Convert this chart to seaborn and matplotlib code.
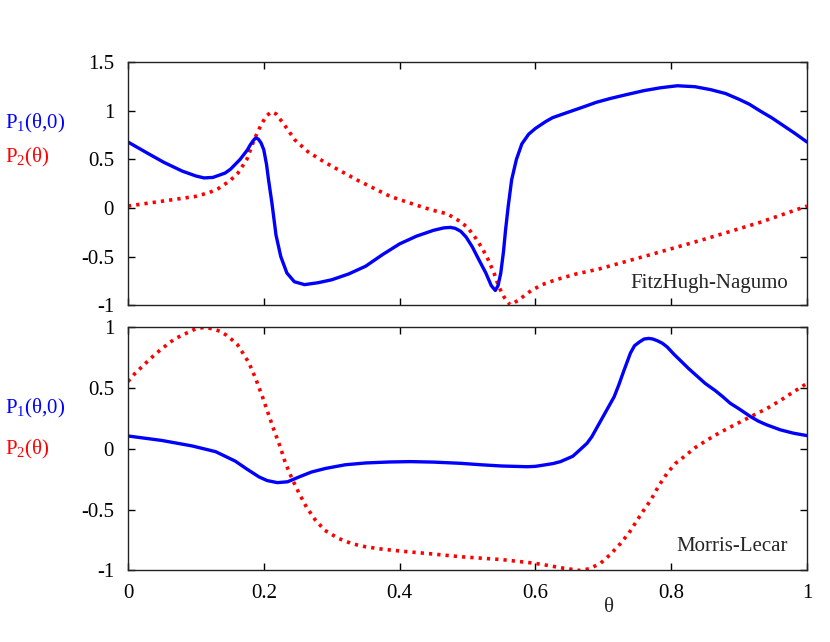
import numpy as np
import pandas as pd
import matplotlib
matplotlib.use("Agg")
import matplotlib.pyplot as plt
import seaborn as sns

# values
# FitzHugh-Nagumo, P1(theta,0)
fhn_p1_theta = [0.0, 0.03, 0.053, 0.08, 0.1, 0.112, 0.125, 0.135, 0.143, 0.151, 0.165, 0.176,
                0.18, 0.184, 0.187, 0.189, 0.192, 0.196, 0.2, 0.204, 0.207, 0.212, 0.218, 0.225,
                0.234, 0.245, 0.26, 0.28, 0.3, 0.325, 0.35, 0.375, 0.4, 0.425, 0.45, 0.465,
                0.475, 0.482, 0.49, 0.498, 0.507, 0.518, 0.527, 0.535, 0.541, 0.545, 0.549, 0.553,
                0.556, 0.56, 0.565, 0.572, 0.58, 0.59, 0.6, 0.615, 0.625, 0.637, 0.67, 0.69,
                0.711, 0.735, 0.76, 0.785, 0.809, 0.835, 0.858, 0.88, 0.9, 0.915, 0.931, 0.948,
                0.965, 0.982, 1.0]
fhn_p1_value = [0.68, 0.56, 0.47, 0.38, 0.33, 0.31, 0.315, 0.34, 0.36, 0.40, 0.50, 0.60,
                0.65, 0.69, 0.715, 0.72, 0.71, 0.67, 0.60, 0.45, 0.29, 0.05, -0.28, -0.50,
                -0.67, -0.76, -0.79, -0.77, -0.74, -0.68, -0.60, -0.48, -0.37, -0.29, -0.23, -0.205,
                -0.20, -0.21, -0.24, -0.30, -0.40, -0.55, -0.67, -0.80, -0.85, -0.80, -0.67, -0.45,
                -0.23, 0.02, 0.29, 0.50, 0.66, 0.76, 0.82, 0.89, 0.93, 0.96, 1.04, 1.09,
                1.13, 1.17, 1.21, 1.24, 1.26, 1.25, 1.22, 1.18, 1.12, 1.07, 1.00, 0.93,
                0.85, 0.77, 0.68]

# FitzHugh-Nagumo, P2(theta)
fhn_p2_theta = [0.0, 0.05, 0.1, 0.12, 0.133, 0.15, 0.162, 0.175, 0.184, 0.19, 0.197, 0.204,
                0.211, 0.218, 0.23, 0.246, 0.265, 0.29, 0.337, 0.386, 0.42, 0.447, 0.47, 0.487,
                0.5, 0.512, 0.522, 0.531, 0.539, 0.546, 0.554, 0.563, 0.575, 0.594, 0.61, 0.63,
                0.66, 0.693, 0.77, 0.85, 0.93, 1.0]
fhn_p2_value = [0.02, 0.07, 0.12, 0.16, 0.20, 0.28, 0.36, 0.50, 0.67, 0.77, 0.87, 0.95,
                0.99, 0.97, 0.86, 0.70, 0.58, 0.47, 0.29, 0.12, 0.04, -0.02, -0.06, -0.13,
                -0.20, -0.31, -0.42, -0.54, -0.67, -0.81, -0.92, -1.0, -0.95, -0.85, -0.79, -0.74,
                -0.68, -0.63, -0.48, -0.32, -0.15, 0.02]

# Morris-Lecar, P1(theta,0)
ml_p1_theta = [0.0, 0.05, 0.0945, 0.129, 0.158, 0.175, 0.193, 0.205, 0.22, 0.235, 0.252, 0.27,
               0.291, 0.32, 0.35, 0.385, 0.416, 0.45, 0.49, 0.52, 0.55, 0.588, 0.6, 0.615,
               0.626, 0.637, 0.655, 0.665, 0.676, 0.683, 0.69, 0.70, 0.708, 0.716, 0.723, 0.73,
               0.74, 0.746, 0.753, 0.76, 0.767, 0.773, 0.78, 0.787, 0.794, 0.804, 0.815, 0.826,
               0.838, 0.85, 0.865, 0.876, 0.887, 0.9, 0.917, 0.928, 0.94, 0.961, 0.98, 1.0]
ml_p1_value = [0.107, 0.07, 0.025, -0.022, -0.10, -0.165, -0.23, -0.26, -0.277, -0.27, -0.23, -0.19,
               -0.16, -0.13, -0.115, -0.107, -0.104, -0.108, -0.118, -0.13, -0.14, -0.146, -0.143, -0.13,
               -0.12, -0.104, -0.06, -0.01, 0.047, 0.10, 0.17, 0.27, 0.35, 0.43, 0.53, 0.64,
               0.79, 0.85, 0.88, 0.905, 0.91, 0.905, 0.89, 0.87, 0.84, 0.78, 0.72, 0.66,
               0.60, 0.54, 0.48, 0.43, 0.376, 0.33, 0.266, 0.23, 0.20, 0.157, 0.13, 0.11]

# Morris-Lecar, P2(theta)
ml_p2_theta = [0.0, 0.01, 0.026, 0.04, 0.06, 0.07, 0.085, 0.1, 0.112, 0.124, 0.135, 0.144,
               0.153, 0.161, 0.168, 0.178, 0.188, 0.198, 0.206, 0.215, 0.224, 0.232, 0.242, 0.252,
               0.263, 0.276, 0.29, 0.31, 0.33, 0.35, 0.375, 0.401, 0.45, 0.49, 0.55, 0.598,
               0.62, 0.64, 0.666, 0.68, 0.696, 0.71, 0.725, 0.738, 0.75, 0.76, 0.77, 0.782,
               0.794, 0.806, 0.819, 0.835, 0.853, 0.87, 0.887, 0.917, 0.94, 0.961, 0.98, 1.0]
ml_p2_value = [0.555, 0.62, 0.706, 0.78, 0.87, 0.91, 0.95, 0.99, 1.0, 0.99, 0.97, 0.94,
               0.90, 0.86, 0.80, 0.71, 0.58, 0.43, 0.30, 0.156, 0.02, -0.118, -0.25, -0.365,
               -0.48, -0.585, -0.67, -0.736, -0.78, -0.805, -0.825, -0.84, -0.865, -0.887, -0.91, -0.94,
               -0.96, -0.98, -1.0, -0.985, -0.94, -0.87, -0.78, -0.69, -0.585, -0.50, -0.42, -0.30,
               -0.20, -0.12, -0.063, 0.01, 0.074, 0.13, 0.18, 0.266, 0.33, 0.40, 0.47, 0.54]

x_ticks = [0, 0.2, 0.4, 0.6, 0.8, 1]
x_ticklabels = ["0", "0.2", "0.4", "0.6", "0.8", "1"]
top_yticks = [-1, -0.5, 0, 0.5, 1, 1.5]
top_yticklabels = ["-1", "-0.5", "0", "0.5", "1", "1.5"]
bot_yticks = [-1, -0.5, 0, 0.5, 1]
bot_yticklabels = ["-1", "-0.5", "0", "0.5", "1"]

sns.set_theme(style="ticks")
plt.rcParams['font.family'] = ['Liberation Serif', 'DejaVu Serif']
plt.rcParams['mathtext.fontset'] = 'custom'
plt.rcParams['mathtext.rm'] = 'Liberation Serif'
plt.rcParams['mathtext.it'] = 'Liberation Serif:italic'

FS = 15
blue = '#0000ff'
red = '#ff0000'

fig = plt.figure(figsize=(8.3, 6.42), dpi=100)
ax_top = fig.add_axes([0.1542, 0.5249, 0.8181, 0.3778])
ax_bot = fig.add_axes([0.1542, 0.1114, 0.8181, 0.3785])


def draw_panel(ax, t1, v1, t2, v2, ylim, yticks, yticklabels, name, name_y):
    df1 = pd.DataFrame({"theta": t1, "P": v1})
    df2 = pd.DataFrame({"theta": t2, "P": v2})
    sns.lineplot(data=df2, x="theta", y="P", ax=ax, color=red, lw=2.6,
                 linestyle=(0, (0.9, 1.4)), sort=False, estimator=None)
    sns.lineplot(data=df1, x="theta", y="P", ax=ax, color=blue, lw=2.4,
                 sort=False, estimator=None)
    ax.set_xlim(0, 1)
    ax.set_ylim(*ylim)
    ax.set_xticks(x_ticks)
    ax.set_yticks(yticks)
    ax.set_yticklabels(yticklabels, fontsize=FS)
    ax.set_ylabel("")
    ax.tick_params(direction='in', length=5, width=1, top=True, right=True,
                   colors='black', pad=10)
    for s in ax.spines.values():
        s.set_visible(True)
        s.set_linewidth(1.0)
        s.set_color('#222222')
    ax.text(0.972, name_y, name, transform=ax.transAxes, ha='right', va='center',
            fontsize=FS)


draw_panel(ax_top, fhn_p1_theta, fhn_p1_value, fhn_p2_theta, fhn_p2_value,
           (-1, 1.5), top_yticks, top_yticklabels, "FitzHugh-Nagumo", 0.087)
draw_panel(ax_bot, ml_p1_theta, ml_p1_value, ml_p2_theta, ml_p2_value,
           (-1, 1), bot_yticks, bot_yticklabels, "Morris-Lecar", 0.098)

ax_top.set_xticklabels([])
ax_top.set_xlabel("")
ax_bot.set_xticklabels(x_ticklabels, fontsize=FS)
ax_bot.set_xlabel("θ", fontsize=FS)
ax_bot.xaxis.set_label_coords(0.708, -0.115)

# curve labels on the left
fig.text(0.006, 0.808, r"P$_{\mathrm{1}}$(θ,0)", color=blue, fontsize=FS, va='center')
fig.text(0.006, 0.754, r"P$_{\mathrm{2}}$(θ)", color=red, fontsize=FS, va='center')
fig.text(0.006, 0.3645, r"P$_{\mathrm{1}}$(θ,0)", color=blue, fontsize=FS, va='center')
fig.text(0.006, 0.30, r"P$_{\mathrm{2}}$(θ)", color=red, fontsize=FS, va='center')

fig.savefig("out.png", dpi=100)
